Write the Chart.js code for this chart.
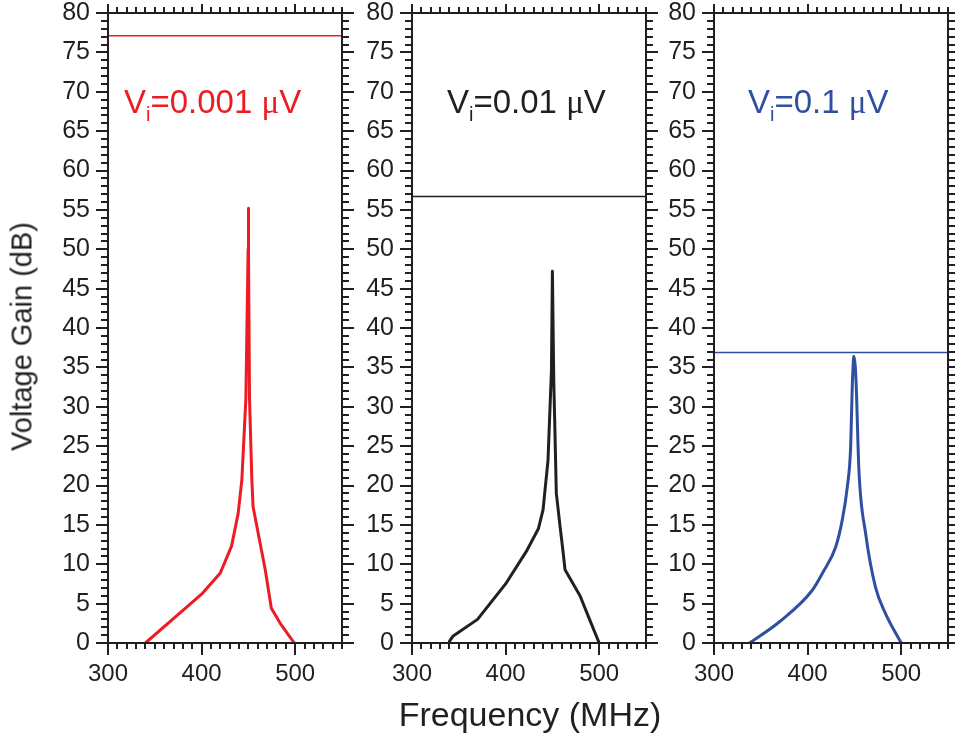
<!DOCTYPE html>
<html>
<head>
<meta charset="utf-8">
<script src="https://cdn.jsdelivr.net/npm/chart.js@4.4.0/dist/chart.umd.min.js"></script>
<style>
  html, body { margin: 0; padding: 0; background: #fff; }
  #wrap { position: relative; width: 955px; height: 738px; overflow: hidden; }
  #wrap canvas { position: absolute; left: 0; top: 0; }
  .ann { position: absolute; font-family: "Liberation Sans", Arial, sans-serif; font-size: 33px; line-height: 33px; white-space: nowrap; }
  .ann .sub { position: relative; top: 8px; font-size: 20px; }
  .ann .mu { font-family: "Liberation Serif", "DejaVu Serif", serif; }
  .title { position: absolute; font-family: "Liberation Sans", Arial, sans-serif; color: #231f20; white-space: nowrap; text-align: center; }
</style>
</head>
<body>
<div id="wrap">
  <canvas id="chartA" width="955" height="738"></canvas>
  <canvas id="chartB" width="955" height="738"></canvas>
  <canvas id="chartC" width="955" height="738"></canvas>

  <div class="ann" style="left:124px; top:85px; color:#ed1c24;">V<span class="sub">i</span>=0.001 <span class="mu">μ</span>V</div>
  <div class="ann" style="left:447px; top:85px; color:#231f20;">V<span class="sub">i</span>=0.01 <span class="mu">μ</span>V</div>
  <div class="ann" style="left:748px; top:85px; color:#2f4fa2;">V<span class="sub">i</span>=0.1 <span class="mu">μ</span>V</div>

  <div class="title" style="left:330px; top:697px; width:400px; font-size:34px; line-height:34px;">Frequency (MHz)</div>
  <div class="title" style="left:-178px; top:322px; width:400px; height:29px; font-size:29px; line-height:29px; transform: rotate(-90deg);">Voltage Gain (dB)</div>
</div>

<script>
// --- datos ---
// panel 1: Vi = 0.001 uV
const freqA = [340, 400, 420, 432, 439, 443, 447.3, 449.7, 450, 450.2, 451.2, 453.7, 455, 468, 474.5, 484, 499];
const gainA = [0, 6.2, 8.9, 12.3, 16.4, 20.7, 31, 50, 55.2, 50, 31, 20.7, 17.3, 9.3, 4.4, 2.5, 0];
const levelA = 77.1;

// panel 2: Vi = 0.01 uV
const freqB = [340, 344, 370, 400, 423, 435, 440, 445.3, 449, 450, 451.5, 452.5, 454.2, 458, 461.2, 463.5, 479.5, 490, 500];
const gainB = [0.2, 0.9, 3, 7.5, 11.8, 14.5, 16.9, 23.2, 34.7, 47.2, 33, 28, 19, 15, 11.8, 9.3, 6, 2.9, 0];
const levelB = 56.7;

// panel 3: Vi = 0.1 uV
const freqC = [338, 370, 405, 416, 430, 437, 442.4, 446, 447.7, 449.5, 451, 452, 454.8, 462, 472.5, 483, 500];
const gainC = [0, 2.7, 6.7, 8.9, 12.2, 15.6, 19.8, 24.9, 32.5, 36.4, 35, 32.5, 22, 13.9, 7.1, 3.8, 0];
const levelC = 36.9;

// ejes
const xMin = 300, xMax = 550, xMajor = 100, xMinor = 10;
const yMin = 0, yMax = 80, yMajor = 5, yMinor = 1;

const INK = "#231f20";
const FONT = "'Liberation Sans', Arial, sans-serif";

// marco + marcas (mayores y menores) hacia fuera, en los 4 lados
const framePlugin = {
    id: "frame",
    afterDraw(chart) {
        const { ctx, chartArea: a, scales } = chart;
        const sx = scales.x, sy = scales.y;
        ctx.save();
        ctx.strokeStyle = INK;
        ctx.lineWidth = 2;
        ctx.lineCap = "butt";
        ctx.strokeRect(a.left, a.top, a.right - a.left, a.bottom - a.top);
        ctx.beginPath();
        for (let v = xMin; v <= xMax; v += xMinor) {
            const px = Math.round(sx.getPixelForValue(v));
            const major = v % xMajor === 0;
            ctx.moveTo(px, a.bottom); ctx.lineTo(px, a.bottom + (major ? 12 : 6));
            ctx.moveTo(px, a.top); ctx.lineTo(px, a.top - (major ? 9 : 6));
        }
        for (let v = yMin; v <= yMax; v += yMinor) {
            const py = Math.round(sy.getPixelForValue(v));
            const major = v % yMajor === 0;
            ctx.moveTo(a.left, py); ctx.lineTo(a.left - (major ? 12 : 7), py);
            ctx.moveTo(a.right, py); ctx.lineTo(a.right + (major ? 12 : 7), py);
        }
        ctx.stroke();
        ctx.restore();
    }
};

function makePanel(id, freq, gain, level, color, smooth, left, right) {
    const top = 13, bottom = 643;
    const yW = 70, xH = 60;
    return new Chart(document.getElementById(id), {
        type: "line",
        data: {
            datasets: [
                {
                    data: freq.map((f, i) => ({ x: f, y: gain[i] })),
                    borderColor: color,
                    borderWidth: 3,
                    pointRadius: 0,
                    cubicInterpolationMode: smooth ? "monotone" : "default",
                    tension: 0,
                    borderJoinStyle: "round",
                    borderCapStyle: "round",
                    fill: false,
                },
                {
                    data: [{ x: xMin, y: level }, { x: xMax, y: level }],
                    borderColor: color,
                    borderWidth: 1.5,
                    pointRadius: 0,
                    fill: false,
                },
            ],
        },
        options: {
            responsive: false,
            animation: false,
            devicePixelRatio: 1,
            layout: { padding: { left: left - yW, right: 955 - right, top: top, bottom: 738 - bottom - xH } },
            plugins: { legend: { display: false }, tooltip: { enabled: false } },
            scales: {
                x: {
                    type: "linear", min: xMin, max: xMax,
                    afterFit: (s) => { s.height = xH; s.paddingLeft = 0; s.paddingRight = 0; },
                    grid: { display: false, drawTicks: false },
                    border: { display: false },
                    ticks: {
                        stepSize: xMajor, includeBounds: false, autoSkip: false, maxRotation: 0,
                        padding: 17, color: INK, font: { family: FONT, size: 24 },
                    },
                },
                y: {
                    type: "linear", min: yMin, max: yMax,
                    afterFit: (s) => { s.width = yW; s.paddingTop = 0; s.paddingBottom = 0; },
                    grid: { display: false, drawTicks: false },
                    border: { display: false },
                    ticks: {
                        stepSize: yMajor, autoSkip: false,
                        padding: 18, color: INK, font: { family: FONT, size: 25 },
                    },
                },
            },
        },
        plugins: [framePlugin],
    });
}

makePanel("chartA", freqA, gainA, levelA, "#ed1c24", false, 108, 342);
makePanel("chartB", freqB, gainB, levelB, "#231f20", false, 412, 646);
makePanel("chartC", freqC, gainC, levelC, "#2f4fa2", true, 714, 948);
</script>
</body>
</html>
